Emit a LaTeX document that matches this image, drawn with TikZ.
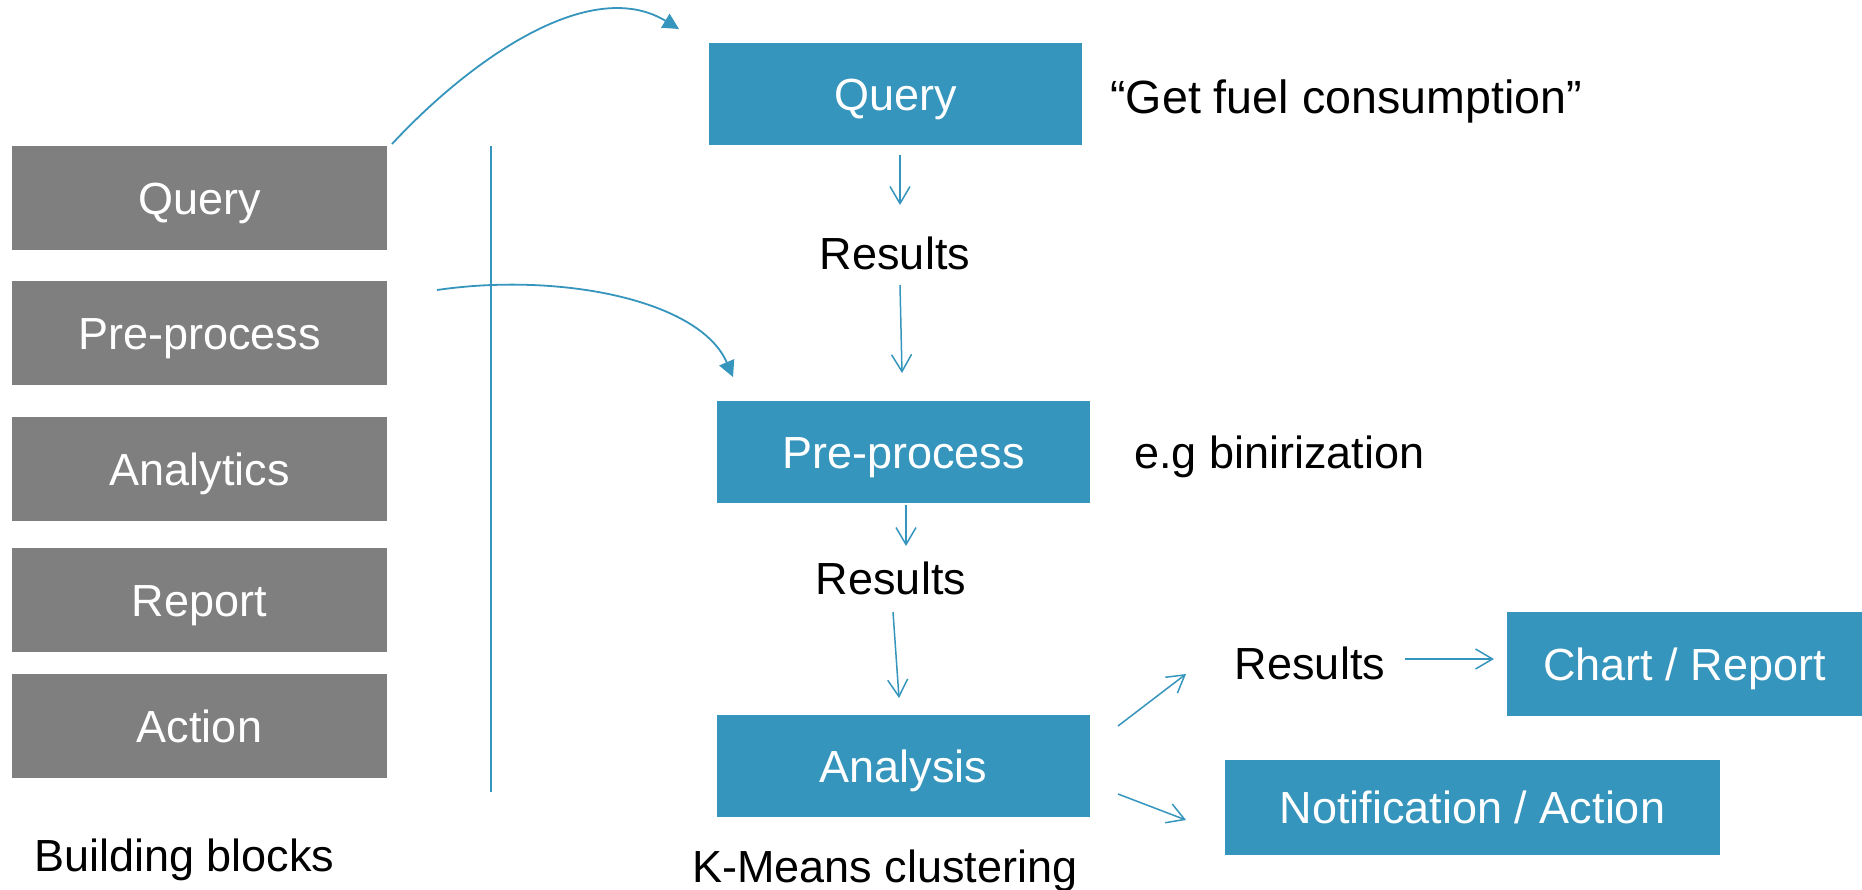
\documentclass[tikz,border=0pt]{standalone}
\usepackage{fontspec}
\setmainfont{Liberation Sans}
\usetikzlibrary{arrows.meta}
\definecolor{bblue}{HTML}{3595BC}
\definecolor{bgray}{HTML}{7F7F7F}
\begin{document}
\begin{tikzpicture}[x=0.5bp,y=-0.5bp,
 box/.style={rectangle, inner sep=0pt, text height=16bp, text depth=0pt, font=\fontsize{22.5bp}{27bp}\selectfont, text=white},
 graybox/.style={box, fill=bgray, minimum width=187.5bp, minimum height=52bp},
 bluebox/.style={box, fill=bblue, minimum width=186.5bp, minimum height=51bp},
 lbl/.style={anchor=base, inner sep=0pt, font=\fontsize{22.5bp}{27bp}\selectfont},
 flowarr/.style={draw=bblue, line width=0.75bp, -{Straight Barb[length=8.5bp,width=10bp]}},
 curvarr/.style={draw=bblue, line width=0.9bp, -{Triangle[length=8bp,width=8bp]}},
 divider/.style={draw=bblue, line width=0.75bp}]
\path[use as bounding box] (0,0) rectangle (1862,890);

% building blocks
\node[graybox] (gq) at (199.5,198) {Query};
\node[graybox] (gp) at (199.5,333) {Pre-process};
\node[graybox] (ga) at (199.5,469) {Analytics};
\node[graybox] (gr) at (199.5,600) {Report};
\node[graybox] (gx) at (199.5,726) {Action};
\node[lbl] (bb) at (184.5,871) {Building blocks};

% divider
\coordinate (vt) at (491,146);
\coordinate (vb) at (491,792);
\draw[divider] (vt) -- (vb);

% pipeline
\node[bluebox] (bq) at (895.5,94) {Query};
\node[bluebox] (bp) at (903.5,452) {Pre-process};
\node[bluebox] (ba) at (903.5,766) {Analysis};
\node[bluebox, minimum width=177.5bp, minimum height=52bp] (bc) at (1684.5,664) {Chart / Report};
\node[bluebox, minimum width=247.5bp, minimum height=47.5bp] (bn) at (1472.5,807.5) {Notification / Action};

\node[lbl, anchor=base west, font=\fontsize{23.3bp}{28bp}\selectfont] (gf) at (1110,113) {“Get fuel consumption”};
\node[lbl] (r1) at (895,269) {Results};
\node[lbl, anchor=base west] (eg) at (1134,468) {e.g binirization};
\node[lbl] (r2) at (891,594) {Results};
\node[lbl] (r3) at (1310,679) {Results};
\node[lbl] (km) at (885,882) {K-Means clustering};

% connector end points
\coordinate (a1s) at (900,155); \coordinate (a1e) at (900,205);
\coordinate (a2s) at (900,285); \coordinate (a2e) at (902,373);
\coordinate (a3s) at (906,505); \coordinate (a3e) at (906,546);
\coordinate (a4s) at (893,612); \coordinate (a4e) at (899,698);
\coordinate (a5s) at (1118,726); \coordinate (a5e) at (1186,674);
\coordinate (a6s) at (1118,794); \coordinate (a6e) at (1186,820);
\coordinate (a7s) at (1405,659); \coordinate (a7e) at (1494,659);
\coordinate (c1s) at (392,144); \coordinate (c1e) at (679,29);
\coordinate (c2s) at (437,290); \coordinate (c2e) at (733,377);

\draw[flowarr] (a1s) -- (a1e);
\draw[flowarr] (a2s) -- (a2e);
\draw[flowarr] (a3s) -- (a3e);
\draw[flowarr] (a4s) -- (a4e);
\draw[flowarr] (a5s) -- (a5e);
\draw[flowarr] (a6s) -- (a6e);
\draw[flowarr] (a7s) -- (a7e);

\draw[curvarr] (c1s) .. controls (470,60) and (590,-25) .. (c1e);
\draw[curvarr] (c2s) .. controls (560,272) and (700,300) .. (c2e);
\end{tikzpicture}
\end{document}
